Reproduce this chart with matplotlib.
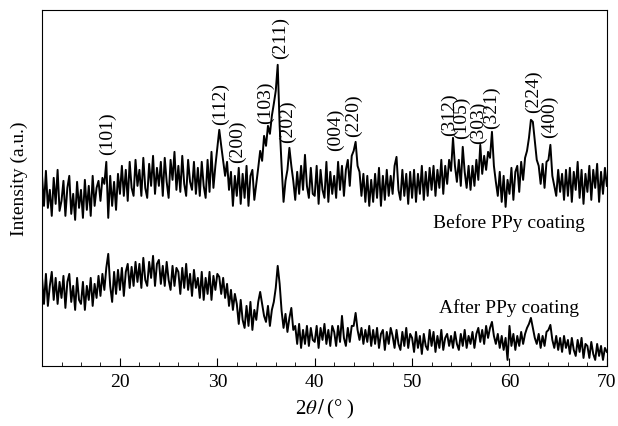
import numpy as np
import matplotlib
matplotlib.use("Agg")
import matplotlib.pyplot as plt
from matplotlib.ticker import MultipleLocator

plt.rcParams["font.family"] = ["Liberation Serif", "DejaVu Serif"]
plt.rcParams["mathtext.fontset"] = "stix"

# 2theta grid, 0.2 deg steps from 12 to 70
two_theta = np.arange(12.0, 70.0001, 0.2)

# intensities (a.u.)
before_ppy = [
    190, 160, 195, 158, 176, 150, 188, 162, 196, 155,
    165, 185, 150, 178, 190, 152, 172, 146, 184, 158,
    176, 148, 186, 156, 180, 150, 190, 160, 178, 185,
    165, 188, 182, 204, 148, 190, 160, 184, 156, 192,
    172, 200, 170, 196, 165, 204, 178, 170, 206, 180,
    196, 170, 208, 178, 168, 202, 180, 210, 172, 198,
    180, 204, 170, 208, 184, 168, 206, 186, 214, 176,
    200, 174, 210, 182, 170, 206, 184, 176, 204, 172,
    198, 170, 204, 180, 168, 206, 174, 214, 178, 200,
    218, 236, 220, 205, 190, 204, 176, 194, 160, 190,
    170, 198, 162, 192, 168, 200, 160, 190, 196, 166,
    182, 198, 215, 205, 230, 220, 240, 232, 250, 262,
    275, 301, 240, 200, 164, 185, 196, 218, 200, 185,
    166, 194, 172, 200, 176, 211, 180, 168, 198, 172,
    170, 200, 162, 196, 176, 168, 204, 164, 194, 172,
    190, 168, 204, 176, 200, 170, 196, 206, 180, 210,
    215, 224, 200, 194, 170, 192, 164, 190, 160, 186,
    164, 192, 168, 198, 160, 190, 166, 196, 170, 190,
    172, 200, 209, 176, 166, 196, 170, 192, 162, 194,
    168, 196, 164, 192, 172, 200, 166, 194, 170, 198,
    176, 200, 170, 196, 178, 206, 172, 200, 182, 206,
    195, 228, 200, 184, 206, 180, 219, 194, 178, 200,
    176, 200, 180, 206, 186, 221, 192, 210, 196, 214,
    208, 234, 200, 184, 170, 194, 164, 190, 159, 186,
    172, 198, 166, 194, 200, 174, 204, 186, 208, 215,
    228, 246, 244, 225, 206, 200, 182, 202, 178, 204,
    206, 221, 190, 180, 170, 196, 174, 192, 166, 196,
    170, 198, 164, 194, 176, 204, 168, 196, 162, 192,
    174, 200, 166, 196, 178, 202, 164, 194, 172, 198,
    180,
]

after_ppy = [
    88, 62, 92, 60, 80, 94, 66, 88, 62, 84,
    68, 90, 58, 84, 92, 64, 80, 56, 88, 66,
    62, 84, 56, 80, 66, 88, 60, 82, 68, 90,
    70, 92, 76, 98, 112, 80, 64, 94, 72, 96,
    76, 98, 70, 94, 102, 78, 99, 80, 104, 84,
    102, 78, 108, 86, 80, 104, 88, 110, 80, 102,
    106, 82, 100, 80, 104, 86, 76, 100, 80, 98,
    94, 72, 98, 78, 102, 76, 92, 70, 96, 78,
    88, 68, 94, 66, 88, 72, 94, 66, 90, 76,
    92, 89, 72, 88, 68, 82, 60, 76, 56, 72,
    62, 42, 66, 46, 38, 60, 40, 64, 36, 56,
    46, 64, 74, 62, 50, 44, 60, 40, 56, 64,
    78, 100, 82, 55, 38, 52, 34, 48, 58, 36,
    40, 22, 42, 18, 36, 22, 40, 20, 38, 26,
    24, 40, 18, 38, 26, 42, 22, 36, 20, 40,
    34, 20, 40, 24, 50, 28, 20, 38, 24, 40,
    40, 53, 36, 26, 38, 22, 36, 24, 40, 20,
    36, 22, 38, 18, 32, 36, 16, 34, 22, 38,
    30, 18, 36, 22, 16, 34, 20, 38, 18, 32,
    28, 14, 34, 18, 30, 12, 32, 20, 16, 36,
    20, 34, 14, 30, 18, 36, 16, 28, 32, 20,
    30, 18, 34, 22, 16, 32, 20, 36, 18, 30,
    22, 34, 18, 32, 38, 24, 36, 22, 40, 28,
    38, 44, 30, 22, 32, 18, 30, 16, 28, 6,
    40, 20, 32, 16, 30, 20, 34, 22, 32, 38,
    42, 48, 38, 28, 22, 32, 18, 30, 20, 34,
    36, 41, 26, 18, 30, 16, 28, 14, 30, 18,
    26, 12, 28, 16, 10, 26, 14, 28, 8, 22,
    20, 8, 24, 12, 6, 22, 10, 20, 6, 18,
    14,
]

# reflection labels: text, x position, y centre
hkl_labels = ["(101)", "(112)", "(200)", "(103)", "(211)", "(202)", "(004)",
              "(220)", "(312)", "(105)", "(303)", "(321)", "(224)", "(400)"]
hkl_x = [18.7, 30.35, 32.05, 34.9, 36.5, 37.2, 42.1,
         43.95, 53.85, 55.1, 56.8, 58.2, 62.5, 64.1]
hkl_y = [232, 262, 224, 263, 328, 244, 236,
         250, 251, 248, 243, 258, 274, 249]

fig = plt.figure(figsize=(6.18, 4.26), dpi=100)
ax = fig.add_axes([0.068, 0.141, 0.914, 0.836])

ax.plot(two_theta, before_ppy, color="black", lw=1.4)
ax.plot(two_theta, after_ppy, color="black", lw=1.4)

for t, x, y in zip(hkl_labels, hkl_x, hkl_y):
    ax.text(x, y, t, rotation=90, ha="center", va="center", fontsize=14)

ax.text(59.95, 143, "Before PPy coating", ha="center", va="center", fontsize=14)
ax.text(59.9, 58, "After PPy coating", ha="center", va="center", fontsize=14)

ax.set_xlim(12, 70)
ax.set_ylim(0, 356)
ax.xaxis.set_major_locator(MultipleLocator(10))
ax.xaxis.set_minor_locator(MultipleLocator(2))
ax.set_yticks([])
ax.tick_params(axis="x", which="major", direction="in", length=6, labelsize=14, pad=6)
ax.tick_params(axis="x", which="minor", direction="in", length=3)
for s in ax.spines.values():
    s.set_linewidth(0.8)

ax.set_xlabel(r"2$\theta\,/\,$(° )", fontsize=15, labelpad=5)
ax.set_ylabel("Intensity (a.u.)", fontsize=14)
ax.yaxis.set_label_coords(-0.024, 0.525)

fig.savefig("out.png", dpi=100)
